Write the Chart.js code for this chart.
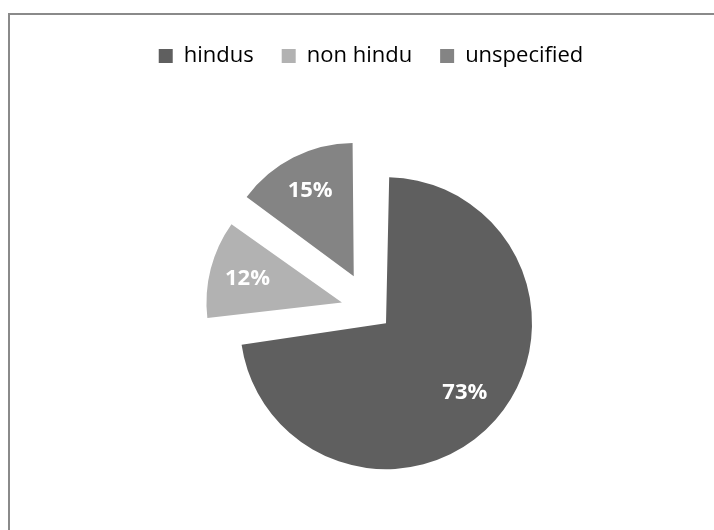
<!DOCTYPE html>
<html>
<head>
<meta charset="utf-8">
<script src="https://cdn.jsdelivr.net/npm/chart.js@4"></script>
<style>
  html, body { margin: 0; padding: 0; background: #fff; overflow: hidden; width: 714px; height: 530px; }
  .frame {
    position: absolute; left: 8px; top: 13px;
    width: 720px; height: 540px;
    border: 2px solid #8a8a8a; box-sizing: border-box;
  }
  #pie { position: absolute; left: 0; top: 0; }
</style>
</head>
<body>
<div class="frame"></div>
<canvas id="pie" width="714" height="543"></canvas>
<script>
'use strict';

// ── Daten ──
const categories = ['hindus', 'non hindu', 'unspecified'];
const shares     = [73, 12, 15];
const colors     = ['#5f5f5f', '#b2b2b2', '#848484'];
// explode: Chart.js verschiebt jedes Segment um offset/4
const explode    = [80, 120, 152];

const FONT = '"Open Sans", "Noto Sans", sans-serif';

// ── Prozent-Labels in den Segmenten ──
const sliceLabels = {
  id: 'sliceLabels',
  afterDatasetsDraw(chart) {
    const ctx = chart.ctx;
    const meta = chart.getDatasetMeta(0);
    ctx.save();
    ctx.fillStyle = '#ffffff';
    ctx.font = 'bold 22px ' + FONT;
    ctx.textAlign = 'center';
    ctx.textBaseline = 'middle';
    meta.data.forEach((arc, i) => {
      const p = arc.getProps(['x', 'y', 'startAngle', 'endAngle', 'outerRadius', 'circumference']);
      const mid = (p.startAngle + p.endAngle) / 2;
      const shift = explode[i] / 4;
      const fix = 1 - Math.sin(Math.min(Math.PI, p.circumference));
      const r = shift + (p.outerRadius + shift * fix) * 0.72;
      ctx.fillText(shares[i] + '%', p.x + Math.cos(mid) * r, p.y + Math.sin(mid) * r);
    });
    ctx.restore();
  }
};

new Chart(document.getElementById('pie'), {
  type: 'pie',
  data: {
    labels: categories,
    datasets: [{
      data: shares,
      backgroundColor: colors,
      borderWidth: 0,
      offset: explode,
      hoverOffset: 0,
      radius: 126,
    }]
  },
  options: {
    responsive: false,
    animation: false,
    events: [],
    layout: { padding: { left: 28, right: 0, top: 17, bottom: 0 } },
    plugins: {
      legend: {
        position: 'top',
        labels: {
          boxWidth: 14,
          boxHeight: 14,
          padding: 28,
          color: '#000',
          font: { family: FONT, size: 22 },
        }
      },
      tooltip: { enabled: false },
    },
  },
  plugins: [sliceLabels],
});
</script>
</body>
</html>
